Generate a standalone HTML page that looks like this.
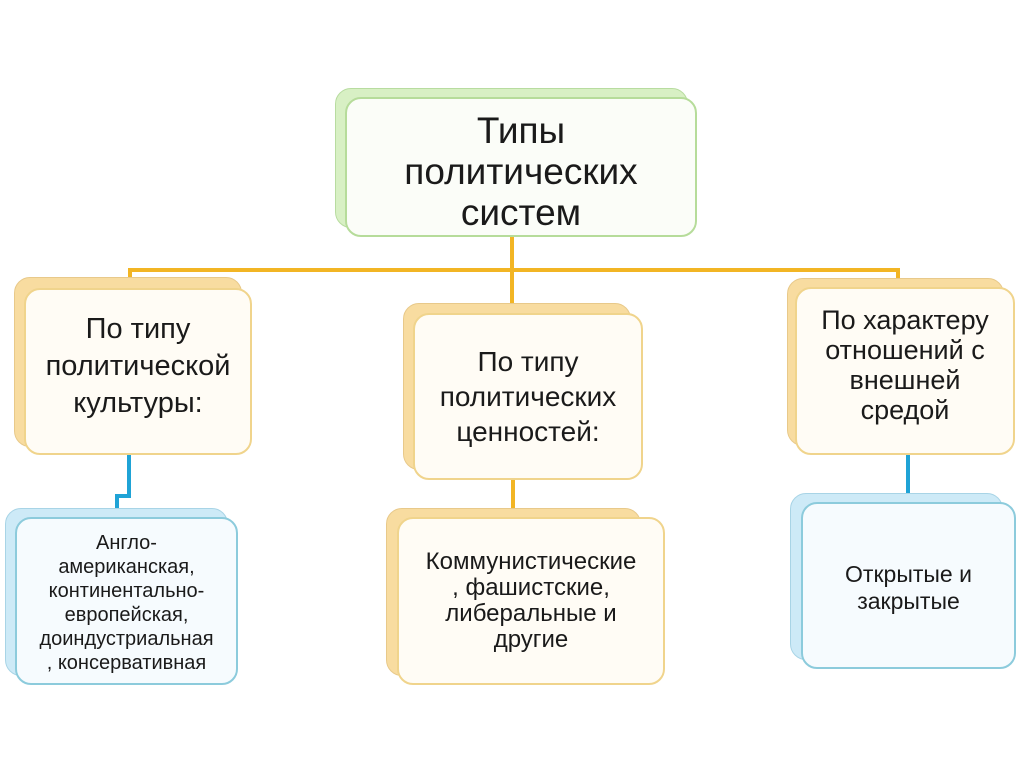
<!DOCTYPE html>
<html><head><meta charset="utf-8"><style>
body{margin:0;width:1024px;height:767px;background:#fff;position:relative;overflow:hidden;font-family:"Liberation Sans","DejaVu Sans",sans-serif;color:#1a1a1a}
.b{position:absolute;border-radius:16px;box-sizing:border-box}
.t{position:absolute;display:flex;align-items:center;justify-content:center;text-align:center;box-sizing:border-box;white-space:nowrap}
.l{position:absolute;background:#f2b524}
.bl{position:absolute;background:#1fa3d6}
</style></head><body>
<div class="l" style="left:510px;top:237px;width:4px;height:75px"></div>
<div class="l" style="left:128px;top:268px;width:772px;height:4px"></div>
<div class="l" style="left:128px;top:268px;width:4px;height:22px"></div>
<div class="l" style="left:896px;top:268px;width:4px;height:22px"></div>
<div class="l" style="left:511px;top:478px;width:4px;height:40px"></div>
<div class="bl" style="left:127px;top:455px;width:4px;height:42px"></div>
<div class="bl" style="left:115px;top:494px;width:16px;height:4px"></div>
<div class="bl" style="left:115px;top:494px;width:4px;height:20px"></div>
<div class="bl" style="left:906px;top:455px;width:4px;height:45px"></div>

<div class="b" style="left:335px;top:88px;width:353px;height:140px;background:#d8f0c4;border:1px solid #b8dca0"></div>
<div class="b" style="left:345px;top:97px;width:352px;height:140px;background:#fbfdf8;border:2px solid #b6dc9a"></div>
<div class="t" style="left:345px;top:101px;width:352px;height:140px;font-size:37px;line-height:41px">Типы<br>политических<br>систем</div>

<div class="b" style="left:14px;top:277px;width:228px;height:170px;background:#f8dca0;border:1px solid #e8c98a"></div>
<div class="b" style="left:24px;top:288px;width:228px;height:167px;background:#fffcf5;border:2px solid #f0d48c"></div>
<div class="t" style="left:24px;top:283px;width:228px;height:167px;font-size:29px;line-height:37px">По типу<br>политической<br>культуры:</div>

<div class="b" style="left:403px;top:303px;width:228px;height:167px;background:#f8dca0;border:1px solid #e8c98a"></div>
<div class="b" style="left:413px;top:313px;width:230px;height:167px;background:#fffcf5;border:2px solid #f0d48c"></div>
<div class="t" style="left:413px;top:313px;width:230px;height:167px;font-size:28px;line-height:35px">По типу<br>политических<br>ценностей:</div>

<div class="b" style="left:787px;top:278px;width:217px;height:168px;background:#f8dca0;border:1px solid #e8c98a"></div>
<div class="b" style="left:795px;top:287px;width:220px;height:168px;background:#fffcf5;border:2px solid #f0d48c"></div>
<div class="t" style="left:795px;top:292px;width:220px;height:145px;font-size:27px;line-height:30px">По характеру<br>отношений с<br>внешней<br>средой</div>

<div class="b" style="left:5px;top:508px;width:223px;height:168px;background:#cdeaf7;border:1px solid #a8d4e6"></div>
<div class="b" style="left:15px;top:517px;width:223px;height:168px;background:#f6fbfe;border:2px solid #8ccbdc"></div>
<div class="t" style="left:15px;top:519px;width:223px;height:168px;font-size:20px;line-height:24px">Англо-<br>американская,<br>континентально-<br>европейская,<br>доиндустриальная<br>, консервативная</div>

<div class="b" style="left:386px;top:508px;width:255px;height:168px;background:#f8dca0;border:1px solid #e8c98a"></div>
<div class="b" style="left:397px;top:517px;width:268px;height:168px;background:#fffcf5;border:2px solid #f0d48c"></div>
<div class="t" style="left:397px;top:517px;width:268px;height:168px;font-size:24px;line-height:26px">Коммунистические<br>, фашистские,<br>либеральные и<br>другие</div>

<div class="b" style="left:790px;top:493px;width:213px;height:167px;background:#cdeaf7;border:1px solid #a8d4e6"></div>
<div class="b" style="left:801px;top:502px;width:215px;height:167px;background:#f6fbfe;border:2px solid #8ccbdc"></div>
<div class="t" style="left:801px;top:502px;width:215px;height:172px;font-size:23px;line-height:27px">Открытые и<br>закрытые</div>
</body></html>
